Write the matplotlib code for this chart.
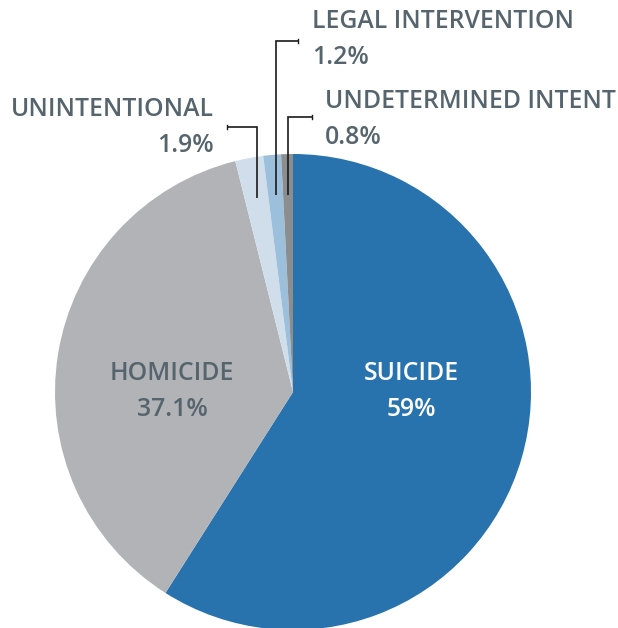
import numpy as np
import matplotlib.pyplot as plt

# data
labels = ["SUICIDE", "HOMICIDE", "UNINTENTIONAL", "LEGAL INTERVENTION", "UNDETERMINED INTENT"]
values = [59.0, 37.1, 1.9, 1.2, 0.8]
pct_text = ["59%", "37.1%", "1.9%", "1.2%", "0.8%"]
colors = ["#2873AE", "#B1B3B6", "#D0DEEB", "#9CBFDC", "#8C8D8F"]

TXT = "#56646D"
W, H = 618, 628
CX, CY, R = 293, H - 392, 238

fig = plt.figure(figsize=(W / 100, H / 100), dpi=100)
ax = fig.add_axes([0, 0, 1, 1])

wedges, _ = ax.pie(values, colors=colors, startangle=90, counterclock=False,
                   center=(CX, CY), radius=R, frame=True,
                   wedgeprops=dict(linewidth=0))
ax.set_xlim(0, W)
ax.set_ylim(0, H)
ax.set_aspect("auto")
ax.axis("off")

font = dict(family=["Open Sans", "DejaVu Sans"], fontsize=17.8, fontweight="semibold")

# big slices: label inside
ax.text(411, H - 374, labels[0], color="white", ha="center", va="center", **font)
ax.text(411, H - 409, pct_text[0], color="white", ha="center", va="center", **font)
ax.text(172, H - 374, labels[1], color=TXT, ha="center", va="center", **font)
ax.text(172, H - 409, pct_text[1], color=TXT, ha="center", va="center", **font)

# small slices: elbow leader lines + labels
# (elbow height, horizontal end x, label x, label top y, alignment)
small = {
    2: (127, 227, 214, 110, "right"),
    3: (41, 298, 312, 22, "left"),
    4: (117, 312, 325, 102, "left"),
}
for i, (ey, hx, lx, ly, ha) in small.items():
    w = wedges[i]
    mid = np.deg2rad((w.theta1 + w.theta2) / 2)
    px = CX + 0.83 * R * np.cos(mid)
    py = CY + 0.83 * R * np.sin(mid)
    ax.plot([px, px, hx], [py, H - ey, H - ey], color="#1a1a1a", lw=1.2,
            solid_capstyle="butt", solid_joinstyle="miter")
    ax.plot([hx, hx], [H - ey - 2, H - ey + 2], color="#1a1a1a", lw=1.0)
    ax.text(lx, H - ly, labels[i], color=TXT, ha=ha, va="center", **font)
    ax.text(lx, H - ly - 36, pct_text[i], color=TXT, ha=ha, va="center", **font)

fig.savefig("out.png", dpi=100)
